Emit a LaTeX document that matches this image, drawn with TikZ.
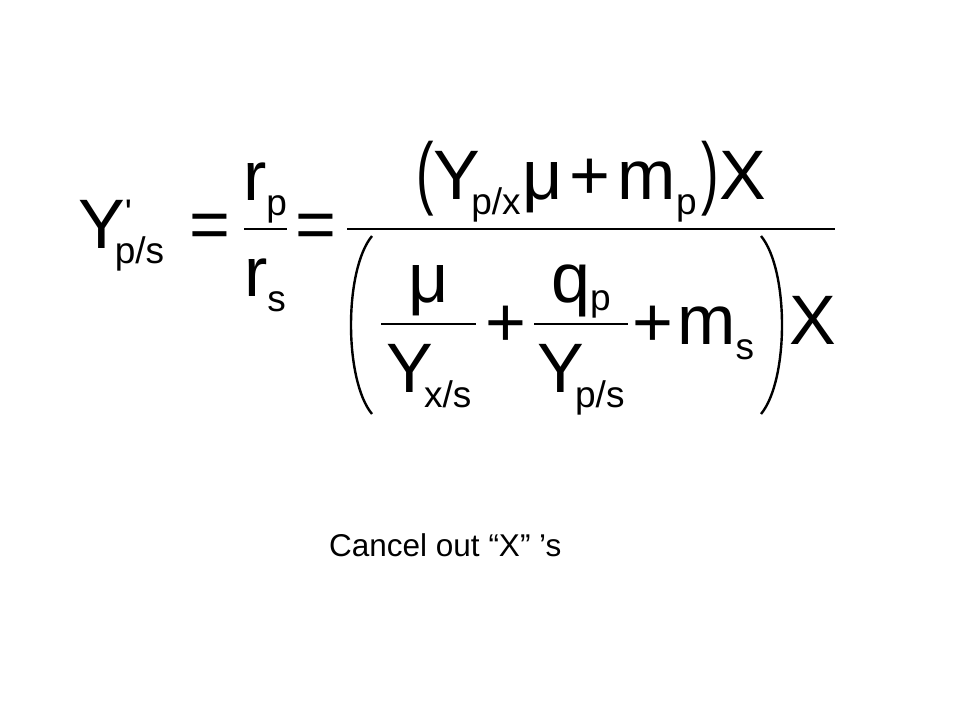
\documentclass[tikz,border=0pt]{standalone}
\usepackage{fontspec}
\usepackage{graphicx}
\setmainfont{Liberation Sans}
\newcommand{\subfont}{\fontsize{37}{40}\selectfont}
\newcommand{\lowsub}[1]{\raisebox{-15pt}{\subfont #1}}

\begin{document}
\begin{tikzpicture}[x=1pt, y=-1pt,
  big/.style = {font=\fontsize{70}{80}\selectfont, inner sep=0pt, anchor=base west},
  op/.style = {font=\fontsize{70}{80}\selectfont, inner sep=0pt, anchor=base},
  bar/.style = {line width=2.8pt},
  smallbar/.style = {line width=1.4pt},
  paren/.style = {line width=2.4pt}]
\useasboundingbox[fill=white] (0,0) rectangle (960,720);

% left hand side
\node[big] (lhs) at (78,248) {Y\rlap{\raisebox{23pt}{\subfont\textquotesingle}}\kern-10pt\lowsub{p/s}};
\node[op] (eq1) at (210,248) {=};
\node[op] (rp) at (265,200) {r\lowsub{p}};
\draw[bar] (244,229) -- (287,229);
\node[op] (rs) at (265,296) {r\lowsub{s}};
\node[op] (eq2) at (316,248) {=};

% main fraction
\draw[bar] (347,229) -- (835,229);

% numerator
\node[op] (num) at (591,199) {\scalebox{0.75}[1.15]{(}Y\kern-9pt\lowsub{p/x}\kern2pt μ\kern7pt+\kern7pt m\lowsub{p}\kern5pt\scalebox{0.75}[1.15]{)}X};

% denominator
\draw[paren] (372,236) .. controls (344,270) and (344,380) .. (372,414);
\draw[paren] (761,236) .. controls (789,270) and (789,380) .. (761,414);
\node[op] (mu1) at (429,302) {μ};
\draw[smallbar] (381,324) -- (476,324);
\node[op] (Yxs) at (429,392) {Y\kern-9pt\lowsub{x/s}};
\node[op] (plus1) at (506,346) {+};
\node[op] (qp) at (581,302) {q\raisebox{-8pt}{\subfont p}};
\draw[smallbar] (534,324) -- (628,324);
\node[op] (Yps) at (581,392) {Y\kern-9pt\lowsub{p/s}};
\node[op] (plus2) at (653,346) {+};
\node[big] (ms) at (677,344) {m\lowsub{s}};
\node[big] (Xden) at (789,344) {X};

% note
\node[font=\fontsize{31.5}{36}\selectfont, inner sep=0pt, anchor=base west] (note) at (329,556) {Cancel out “X” ’s};
\end{tikzpicture}
\end{document}
